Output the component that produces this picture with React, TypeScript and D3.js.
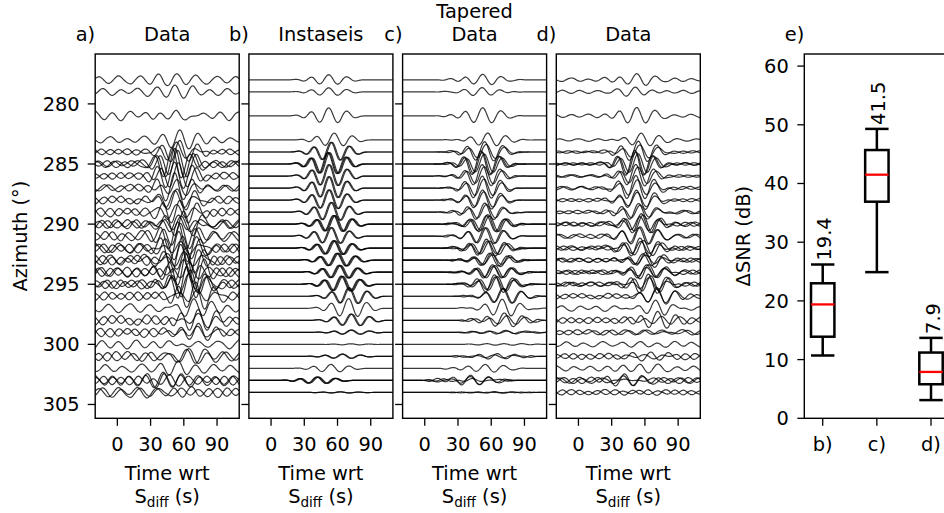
import React from 'react';
import * as d3 from 'd3';

// ---------- data ----------
const AZIMUTHS = [278, 279, 281, 283, 284, 285, 286, 287, 288, 289, 290, 291, 292, 293, 294, 295, 296, 297, 298, 299, 300, 301, 302, 303, 304];
const TRACE_COUNTS = [1, 1, 1, 1, 2, 3, 2, 2, 2, 2, 3, 2, 3, 3, 3, 3, 2, 1, 2, 2, 1, 2, 1, 3, 2];
const ARRIVAL_TIME = [50, 50, 50, 55, 52, 50, 50, 50, 50, 52, 55, 52, 55, 58, 60, 62, 68, 68, 70, 70, 70, 62, 52, 40, 60];
const AMP_SYNTH = [0.45, 0.35, 0.7, 0.6, 0.85, 1.0, 1.0, 1.0, 0.9, 0.85, 0.75, 0.75, 0.65, 0.6, 0.6, 0.7, 0.75, 0.85, 0.55, 0.2, 0.05, 0.2, 0.35, 0.3, 0.05];
const AMP_DATA = [0.45, 0.35, 0.7, 0.7, 0.9, 1.1, 1.1, 1.1, 1.1, 1.0, 1.0, 0.9, 1.0, 1.1, 1.3, 1.3, 1.1, 1.0, 0.9, 0.8, 0.6, 0.4, 0.35, 0.35, 0.2];
const NOISE_RAW = [0.45, 0.4, 0.55, 0.35, 0.35, 0.4, 0.4, 0.4, 0.45, 0.5, 0.5, 0.55, 0.55, 0.55, 0.55, 0.5, 0.5, 0.5, 0.55, 0.5, 0.5, 0.55, 0.45, 0.55, 0.55];
const NOISE_CLEAN = [0.2, 0.2, 0.2, 0.15, 0.15, 0.15, 0.15, 0.2, 0.2, 0.2, 0.25, 0.25, 0.25, 0.25, 0.25, 0.25, 0.3, 0.3, 0.35, 0.3, 0.3, 0.35, 0.3, 0.35, 0.3];
const NOISE_TAPERED = [0.08, 0.08, 0.1, 0.08, 0.08, 0.08, 0.08, 0.1, 0.1, 0.12, 0.12, 0.12, 0.12, 0.12, 0.12, 0.12, 0.12, 0.12, 0.15, 0.1, 0.05, 0.12, 0.1, 0.2, 0.05];
const TRACE_SHIFT = [0, 2.5, -2, 3.5];
const TRACE_SCALE = [1, 0.85, 1.1, 0.9];

// wavelet samples spread evenly from -36 s to +36 s around the arrival
const WAVELET = [0, 0, 0.05, 0.12, 0, -0.3, -0.1, 0.5, 0.55, -0.35, -0.95, -0.3, 0.85, 1.1, 0.1, -0.9, -0.75, 0.25, 0.7, 0.35, -0.2, -0.25, -0.05, 0, 0];
const WAVELET_HALF = 36;

// noise sample sets spanning the -20 .. 110 s window
const NOISE_SETS = [
  [0.2, 0.7, 0.4, -0.3, -0.8, -0.4, 0.3, 0.9, 0.5, -0.2, -0.6, -0.9, -0.2, 0.5, 0.8, 0.1, -0.5, -0.7, 0.0, 0.6, 0.7, 0.1, -0.4, -0.8, -0.3, 0.4, 0.9, 0.3, -0.5, -0.6, 0.1, 0.8, 0.4, -0.3, -0.9, -0.5, 0.2, 0.7, 0.6, -0.1, -0.7, -0.4, 0.3, 0.8, 0.2],
  [-0.5, 0.1, 0.8, 0.6, -0.2, -0.9, -0.5, 0.2, 0.6, 0.1, -0.4, -0.2, 0.5, 0.9, 0.3, -0.6, -1.0, -0.3, 0.5, 0.7, 0.2, -0.3, -0.6, 0.0, 0.7, 0.5, -0.3, -0.8, -0.2, 0.6, 0.9, 0.1, -0.5, -0.4, 0.2, 0.6, 0.1, -0.7, -0.8, 0.0, 0.8, 0.6, -0.2, -0.6, -0.1],
  [0.8, 0.3, -0.4, -0.7, 0.0, 0.6, 0.3, -0.5, -0.9, -0.2, 0.6, 0.8, 0.2, -0.3, -0.1, 0.4, 0.7, 0.0, -0.8, -0.6, 0.2, 0.9, 0.5, -0.4, -0.7, -0.1, 0.3, 0.6, 0.1, -0.6, -0.9, -0.3, 0.5, 0.8, 0.3, -0.2, -0.5, 0.1, 0.7, 0.4, -0.4, -0.9, -0.2, 0.5, 0.6],
  [0.0, -0.6, -0.8, 0.1, 0.7, 0.9, 0.1, -0.7, -0.5, 0.2, 0.4, -0.1, -0.7, -0.3, 0.6, 1.0, 0.4, -0.5, -0.8, -0.1, 0.5, 0.3, -0.2, -0.6, 0.1, 0.8, 0.6, -0.4, -0.9, -0.4, 0.3, 0.7, 0.2, -0.3, -0.7, 0.0, 0.9, 0.5, -0.5, -0.8, 0.0, 0.6, 0.4, -0.3, -0.5],
  [-0.3, 0.4, 0.9, 0.2, -0.6, -0.7, 0.2, 0.8, 0.3, -0.4, -0.8, -0.2, 0.5, 0.6, -0.1, -0.7, -0.4, 0.4, 0.9, 0.4, -0.5, -0.9, -0.1, 0.6, 0.5, -0.2, -0.5, 0.2, 0.8, 0.2, -0.6, -0.8, 0.0, 0.7, 0.7, -0.1, -0.6, -0.3, 0.4, 0.8, 0.1, -0.7, -0.6, 0.2, 0.5],
  [0.6, -0.2, -0.8, -0.3, 0.5, 0.7, -0.1, -0.6, -0.2, 0.6, 0.9, 0.2, -0.7, -0.8, 0.1, 0.7, 0.4, -0.3, -0.6, 0.2, 0.8, 0.3, -0.5, -0.9, -0.2, 0.6, 0.8, 0.0, -0.6, -0.4, 0.4, 0.9, 0.3, -0.5, -0.7, 0.1, 0.6, 0.2, -0.4, -0.6, 0.2, 0.9, 0.4, -0.3, -0.8],
];

const Y_TICKS = [280, 285, 290, 295, 300, 305];
const X_TICKS = [0, 30, 60, 90];

const BOX_LABELS = ['b)', 'c)', 'd)'];
const BOX_POS = [1, 2, 3];
const BOX_WLO = [10.7, 24.9, 3.1];
const BOX_Q1 = [13.9, 36.9, 5.8];
const BOX_MED = [19.4, 41.5, 7.9];
const BOX_Q3 = [23.0, 45.7, 11.2];
const BOX_WHI = [26.2, 49.3, 13.7];
const BOX_Y_TICKS = [0, 10, 20, 30, 40, 50, 60];

// ---------- layout ----------
const W = 944, H = 513;
const FONT = 'DejaVu Sans, Verdana, sans-serif';
const FS = 19.4;
const TOP = 54, BOTTOM = 418.3;
const PANEL_W = 144;
const PANEL_LEFTS = [95.2, 248.9, 402.6, 556.3];
const T0 = -20, T1 = 110;

const yScale = d3.scaleLinear().domain([275.85, 306.15]).range([TOP, BOTTOM]);
const TIMES = d3.range(T0, T1 + 0.001, 0.5);

const wavelet = d3.interpolateBasis(WAVELET);
const noiseFns = NOISE_SETS.map((s) => d3.interpolateBasis(s));

function signal(t: number, tc: number, amp: number) {
  const u = (t - tc + WAVELET_HALF) / (2 * WAVELET_HALF);
  if (u <= 0 || u >= 1) return 0;
  return amp * wavelet(u);
}
function noise(t: number, k: number) {
  const idx = k % NOISE_SETS.length;
  const rev = Math.floor(k / NOISE_SETS.length) % 2 === 1;
  const flip = Math.floor(k / (2 * NOISE_SETS.length)) % 2 === 1 ? -1 : 1;
  let u = (t - T0) / (T1 - T0);
  if (rev) u = 1 - u;
  return flip * noiseFns[idx](Math.max(0, Math.min(1, u)));
}
function taper(t: number, tc: number) {
  const d = Math.abs(t - tc);
  if (d < 30) return 1;
  if (d > 44) return 0;
  return 0.5 + 0.5 * Math.cos(((d - 30) / 14) * Math.PI);
}

type Trace = { az: number; f: (t: number) => number };

function buildTraces(kind: 'raw' | 'synth' | 'tapered' | 'clean'): Trace[] {
  const out: Trace[] = [];
  let k = 0;
  AZIMUTHS.forEach((az, i) => {
    for (let j = 0; j < TRACE_COUNTS[i]; j++) {
      const kk = k;
      const sh = TRACE_SHIFT[j % TRACE_SHIFT.length];
      const sc = TRACE_SCALE[j % TRACE_SCALE.length];
      const tc = ARRIVAL_TIME[i];
      let f: (t: number) => number;
      if (kind === 'synth') {
        f = (t) => signal(t, tc + sh * 0.4, AMP_SYNTH[i] * (0.9 + 0.1 * sc));
      } else if (kind === 'raw') {
        f = (t) => signal(t, tc + sh, AMP_DATA[i] * sc) + NOISE_RAW[i] * noise(t, kk);
      } else if (kind === 'tapered') {
        f = (t) => taper(t, tc) * (signal(t, tc + sh * 0.6, AMP_SYNTH[i] * sc) + NOISE_TAPERED[i] * noise(t, kk + 3));
      } else {
        f = (t) => signal(t, tc + sh * 0.6, AMP_SYNTH[i] * sc) + NOISE_CLEAN[i] * noise(t, kk + 3);
      }
      out.push({ az, f });
      k++;
    }
  });
  return out;
}

const PANELS = [
  { letter: 'a)', title: ['Data'], kind: 'raw' as const },
  { letter: 'b)', title: ['Instaseis'], kind: 'synth' as const },
  { letter: 'c)', title: ['Tapered', 'Data'], kind: 'tapered' as const },
  { letter: 'd)', title: ['Data'], kind: 'clean' as const },
];

function TracePanel({ idx }: { idx: number }) {
  const p = PANELS[idx];
  const left = PANEL_LEFTS[idx];
  const x = d3.scaleLinear().domain([T0, T1]).range([left, left + PANEL_W]);
  const traces = buildTraces(p.kind);
  const cx = left + PANEL_W / 2;
  const clipId = `clip-${idx}`;
  return (
    <g>
      <defs>
        <clipPath id={clipId}>
          <rect x={left} y={TOP} width={PANEL_W} height={BOTTOM - TOP} />
        </clipPath>
      </defs>
      <g clipPath={`url(#${clipId})`}>
        {traces.map((tr, i) => {
          const gen = d3
            .line<number>()
            .x((t) => x(t))
            .y((t) => yScale(tr.az - tr.f(t)));
          return (
            <path
              key={i}
              d={gen(TIMES) || ''}
              fill="none"
              stroke="#000"
              strokeOpacity={0.78}
              strokeWidth={1.2}
            />
          );
        })}
      </g>
      <rect x={left} y={TOP} width={PANEL_W} height={BOTTOM - TOP} fill="none" stroke="#000" strokeWidth={1.4} />
      {Y_TICKS.map((v) => (
        <g key={v}>
          <line x1={left - 7.5} x2={left} y1={yScale(v)} y2={yScale(v)} stroke="#000" strokeWidth={1.3} />
          {idx === 0 && (
            <text x={left - 15.5} y={yScale(v)} dy="0.36em" textAnchor="end" fontSize={FS} fontFamily={FONT}>
              {v}
            </text>
          )}
        </g>
      ))}
      {X_TICKS.map((v) => (
        <g key={v}>
          <line x1={x(v)} x2={x(v)} y1={BOTTOM} y2={BOTTOM + 7.5} stroke="#000" strokeWidth={1.3} />
          <text x={x(v)} y={450.5} textAnchor="middle" fontSize={FS} fontFamily={FONT}>
            {v}
          </text>
        </g>
      ))}
      <text x={cx} y={480} textAnchor="middle" fontSize={FS} fontFamily={FONT}>
        Time wrt
      </text>
      <text x={cx} y={503} textAnchor="middle" fontSize={FS} fontFamily={FONT}>
        S<tspan fontSize={13.6} dy={4}>diff</tspan>
        <tspan dy={-4}> (s)</tspan>
      </text>
      <text x={left} y={41} textAnchor="end" fontSize={FS} fontFamily={FONT}>
        {p.letter}
      </text>
      {p.title.map((s, i) => (
        <text key={i} x={cx} y={41 - (p.title.length - 1 - i) * 22.6} textAnchor="middle" fontSize={FS} fontFamily={FONT}>
          {s}
        </text>
      ))}
    </g>
  );
}

function BoxPanel() {
  const left = 804.3;
  const x = d3.scaleLinear().domain([0.66, 3.8]).range([left, left + (3.8 - 0.66) * 54.15]);
  const y = d3.scaleLinear().domain([0, 62.06]).range([BOTTOM, TOP]);
  const half = 11.7;
  const fmt = d3.format('.1f');
  return (
    <g>
      {BOX_POS.map((p, i) => {
        const cx = x(p);
        return (
          <g key={i}>
            <line x1={cx} x2={cx} y1={y(BOX_WLO[i])} y2={y(BOX_Q1[i])} stroke="#000" strokeWidth={2.5} />
            <line x1={cx} x2={cx} y1={y(BOX_Q3[i])} y2={y(BOX_WHI[i])} stroke="#000" strokeWidth={2.5} />
            <line x1={cx - half} x2={cx + half} y1={y(BOX_WLO[i])} y2={y(BOX_WLO[i])} stroke="#000" strokeWidth={2.5} />
            <line x1={cx - half} x2={cx + half} y1={y(BOX_WHI[i])} y2={y(BOX_WHI[i])} stroke="#000" strokeWidth={2.5} />
            <rect
              x={cx - half}
              y={y(BOX_Q3[i])}
              width={2 * half}
              height={y(BOX_Q1[i]) - y(BOX_Q3[i])}
              fill="none"
              stroke="#000"
              strokeWidth={2.5}
            />
            <line x1={cx - half} x2={cx + half} y1={y(BOX_MED[i])} y2={y(BOX_MED[i])} stroke="#ff0000" strokeWidth={2.3} />
            <text
              transform={`translate(${cx + 8.5},${y(BOX_WHI[i]) - 4}) rotate(-90)`}
              fontSize={FS}
              fontFamily={FONT}
              textAnchor="start"
            >
              {fmt(BOX_MED[i])}
            </text>
            <line x1={cx} x2={cx} y1={BOTTOM} y2={BOTTOM + 7.5} stroke="#000" strokeWidth={1.3} />
            <text x={cx} y={450.5} textAnchor="middle" fontSize={FS} fontFamily={FONT}>
              {BOX_LABELS[i]}
            </text>
          </g>
        );
      })}
      <rect x={left} y={TOP} width={W + 40 - left} height={BOTTOM - TOP} fill="none" stroke="#000" strokeWidth={1.4} />
      {BOX_Y_TICKS.map((v) => (
        <g key={v}>
          <line x1={left - 7} x2={left} y1={y(v)} y2={y(v)} stroke="#000" strokeWidth={1.3} />
          <text x={left - 15.5} y={y(v)} dy="0.36em" textAnchor="end" fontSize={FS} fontFamily={FONT}>
            {v}
          </text>
        </g>
      ))}
      <text transform={`translate(749.5,${(TOP + BOTTOM) / 2}) rotate(-90)`} textAnchor="middle" fontSize={FS} fontFamily={FONT}>
        ΔSNR (dB)
      </text>
      <text x={left} y={41} textAnchor="end" fontSize={FS} fontFamily={FONT}>
        e)
      </text>
    </g>
  );
}

export default function App() {
  return (
    <svg
      width={W}
      height={H}
      viewBox={`0 0 ${W} ${H}`}
      style={{ position: 'absolute', left: 0, top: 0, background: '#fff' }}
    >
      <rect x={0} y={0} width={W} height={H} fill="#fff" />
      {PANELS.map((_, i) => (
        <TracePanel key={i} idx={i} />
      ))}
      <text transform={`translate(26.5,${(TOP + BOTTOM) / 2}) rotate(-90)`} textAnchor="middle" fontSize={FS} fontFamily={FONT}>
        Azimuth (°)
      </text>
      <BoxPanel />
    </svg>
  );
}
